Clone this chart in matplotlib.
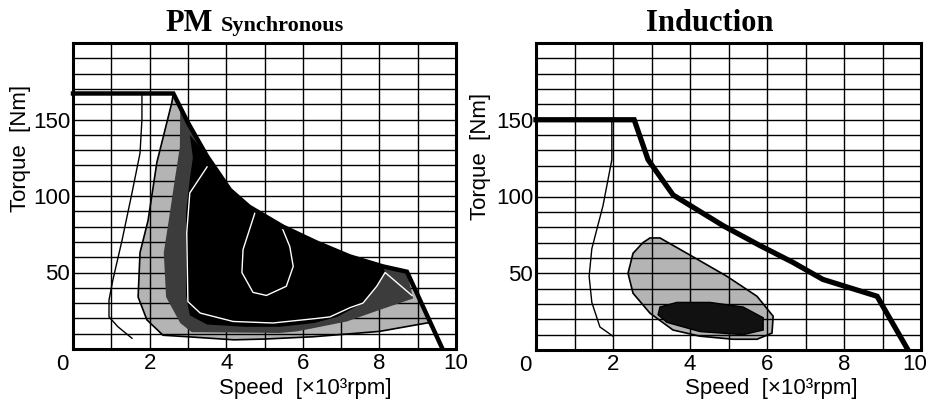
import matplotlib
matplotlib.use("Agg")
import matplotlib.pyplot as plt
import matplotlib.transforms as mtransforms
import numpy as np

# ---------------- data (speed in 10^3 rpm, torque in Nm) ----------------
# PM synchronous motor
pm_env_speed = [0.0, 2.62, 3.0, 3.5, 4.1, 4.6, 5.48, 6.37, 7.23, 8.09, 8.72, 9.63]
pm_env_torque = [167, 167, 148, 126, 104, 93, 80, 69.5, 60.5, 54, 50.5, 1]

pm_thin_speed = [1.8, 1.8, 1.75, 1.54, 1.28, 1.04, 0.94, 0.94, 1.17, 1.54]
pm_thin_torque = [166, 150, 128, 102, 71, 45, 32, 21, 14.6, 7]

# outer (light stipple) efficiency region
pm_light_speed = [2.62, 3.0, 3.5, 4.1, 4.6, 5.48, 6.37, 7.23, 8.09, 8.72, 9.33,
                  9.24, 8.0, 6.27, 5.0, 4.2, 3.0, 2.35, 1.93, 1.7, 1.75, 1.96, 2.19, 2.4, 2.58]
pm_light_torque = [167, 148, 126, 104, 93, 80, 69.5, 60.5, 54, 50.5, 17,
                   17, 11.5, 8, 6.5, 6, 8, 9, 19, 34, 63, 84, 122, 143, 161]

# middle (dark stipple) region
pm_dark_speed = [2.8, 3.0, 3.5, 4.1, 4.6, 5.48, 6.37, 7.23, 8.09, 8.72, 8.88,
                 8.0, 7.15, 5.85, 5.4, 3.1, 2.8, 2.43, 2.37, 2.5, 2.66, 2.79]
pm_dark_torque = [158, 148, 126, 104, 93, 80, 69.5, 60.5, 54, 50.5, 33,
                  25.5, 18, 11.5, 10.5, 11, 17, 34, 63, 84, 111, 132]

# inner (black) region
pm_black_speed = [3.05, 3.5, 4.1, 4.6, 5.48, 6.37, 7.23, 8.09, 8.15, 7.93, 7.57,
                  6.9, 6.3, 5.4, 4.5, 3.5, 3.05, 2.95, 2.95, 3.05, 3.13]
pm_black_torque = [140, 126, 104, 93, 80, 69.5, 60.5, 54, 50, 41, 30,
                   21, 17, 14.5, 14.5, 16, 22, 35, 89, 111, 125]

# white contours inside the black region
pm_c1_speed = [3.5, 3.05, 2.97, 3.0, 3.32, 4.18, 5.22, 6.37, 6.71, 7.23, 7.57, 7.93, 8.15, 8.85]
pm_c1_torque = [119, 102, 76, 31, 23.5, 18, 17, 20, 21, 27, 30, 41, 50, 35]
pm_c2_speed = [4.75, 4.44, 4.41, 4.7, 5.05, 5.57, 5.75, 5.66, 5.48]
pm_c2_torque = [89, 65, 50, 37, 35, 41, 54, 67, 78]

# induction motor
im_env_speed = [0.0, 2.55, 2.91, 3.56, 4.86, 5.82, 6.68, 7.45, 8.86, 9.64]
im_env_torque = [150, 150, 124, 101, 81, 68, 57, 46, 35, 1]

im_thin_speed = [1.97, 1.97, 1.74, 1.45, 1.38, 1.45, 1.66, 2.0]
im_thin_torque = [150, 124, 94, 66, 48, 31, 15, 9]

im_light_speed = [2.96, 3.22, 3.92, 4.96, 5.74, 6.16, 6.13, 5.74, 5.12, 4.26, 3.56,
                  2.96, 2.52, 2.39, 2.52, 2.78]
im_light_torque = [73, 73, 63, 48, 35, 22, 11, 7, 7, 9, 13, 24, 37, 50, 63, 70]

im_black_speed = [3.22, 3.66, 4.52, 5.38, 5.9, 5.9, 5.38, 4.26, 3.4, 3.17]
im_black_torque = [28, 31, 31, 28, 21, 13, 10, 12, 18, 23]

x_tick_vals = [2, 4, 6, 8, 10]
y_tick_vals = [50, 100, 150]

# ---------------- figure ----------------
W, H = 931, 403
fig = plt.figure(figsize=(W / 100, H / 100), dpi=100)
fig.patch.set_facecolor("white")

SANS = ["Liberation Sans", "DejaVu Sans"]
SERIF = ["Liberation Serif", "DejaVu Serif"]
FS = 16

def px_axes(l, r, t, b):
    return [l / W, (H - b) / H, (r - l) / W, (b - t) / H]

def setup(ax, shift_last=False):
    ax.set_xlim(0, 10)
    ax.set_ylim(0, 200)
    ax.set_xticks(np.arange(0, 11, 1))
    ax.set_yticks(np.arange(0, 201, 10))
    ax.set_xticklabels([str(v) if v in x_tick_vals else "" for v in range(0, 11)],
                       fontfamily=SANS, fontsize=FS)
    ax.set_yticklabels([str(v) if v in y_tick_vals else "" for v in range(0, 201, 10)],
                       fontfamily=SANS, fontsize=FS)
    ax.tick_params(length=0, pad=3)
    ax.tick_params(axis="y", pad=2)
    ax.grid(True, color="black", linewidth=1.0, zorder=2)
    ax.set_axisbelow(False)
    for s in ax.spines.values():
        s.set_linewidth(2.2)
        s.set_zorder(6)
    if shift_last:
        lab = ax.get_xticklabels()[-1]
        lab.set_transform(lab.get_transform() +
                          mtransforms.ScaledTranslation(-6 / 100, 0, fig.dpi_scale_trans))
    ax.text(-0.27, -3.2, "0", fontsize=FS, fontfamily=SANS, ha="center", va="top",
            transform=ax.transData, clip_on=False)

axL = fig.add_axes(px_axes(73, 456, 43, 349))
axR = fig.add_axes(px_axes(536, 921, 43, 350))
setup(axL)
setup(axR, shift_last=True)

# ---- left panel ----
axL.fill(pm_light_speed, pm_light_torque, facecolor="#b4b4b4", edgecolor="black",
         linewidth=1.2, zorder=1)
axL.fill(pm_dark_speed, pm_dark_torque, facecolor="#3c3c3c", edgecolor="none", zorder=3)
axL.fill(pm_black_speed, pm_black_torque, facecolor="black", edgecolor="none", zorder=3)
axL.plot(pm_c1_speed, pm_c1_torque, color="white", linewidth=1.0, zorder=4)
axL.plot(pm_c2_speed, pm_c2_torque, color="white", linewidth=1.0, zorder=4)
axL.plot(pm_thin_speed, pm_thin_torque, color="black", linewidth=1.0, zorder=4)
axL.plot(pm_env_speed, pm_env_torque, color="black", linewidth=3.2, zorder=5,
         solid_joinstyle="miter", clip_on=False)

# ---- right panel ----
axR.fill(im_light_speed, im_light_torque, facecolor="#b4b4b4", edgecolor="black",
         linewidth=1.2, zorder=1)
axR.fill(im_black_speed, im_black_torque, facecolor="#111111", edgecolor="black",
         linewidth=1.0, zorder=3)
axR.plot(im_thin_speed, im_thin_torque, color="black", linewidth=1.0, zorder=4)
axR.plot(im_env_speed, im_env_torque, color="black", linewidth=3.8, zorder=5,
         solid_joinstyle="miter", clip_on=False)

# ---- axis labels ----
for ax, ylx, yly, sx, bot in ((axL, -0.136, 0.654, 0.606, 349), (axR, -0.145, 0.632, 0.61, 350)):
    ax.text(ylx, yly, "Torque  [Nm]", rotation=90, ha="center", va="center",
            fontsize=FS, fontfamily=SANS, transform=ax.transAxes)
    ax.text(sx, (bot - 394) / 306.0, "Speed  [×10³rpm]", ha="center", va="baseline",
            fontsize=FS, fontfamily=SANS, transform=ax.transAxes)

# ---- titles ----
fig.text(213 / W, (H - 31) / H, "PM", ha="right", va="baseline", fontsize=22,
         fontweight="bold", fontfamily=SERIF)
fig.text(221 / W, (H - 31) / H, "Synchronous", ha="left", va="baseline", fontsize=16,
         fontweight="bold", fontfamily=SERIF)
fig.text(710 / W, (H - 31) / H, "Induction", ha="center", va="baseline", fontsize=22,
         fontweight="bold", fontfamily=SERIF)

fig.savefig("out.png", dpi=100, facecolor="white")
